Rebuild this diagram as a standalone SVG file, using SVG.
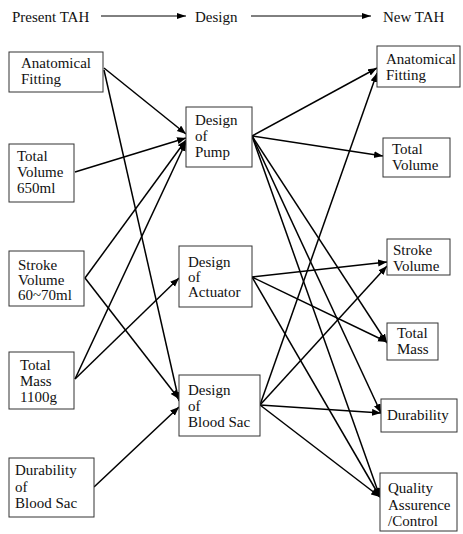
<svg xmlns="http://www.w3.org/2000/svg" width="463" height="534" viewBox="0 0 463 534">
<defs>
<marker id="ah" markerUnits="userSpaceOnUse" markerWidth="10" markerHeight="8" refX="9" refY="3.5" orient="auto">
<path d="M0,0 L9,3.5 L0,7 Z" fill="#000"/>
</marker>
<marker id="ahs" markerUnits="userSpaceOnUse" markerWidth="10" markerHeight="8" refX="9" refY="3" orient="auto">
<path d="M0,0 L9,3 L0,6 Z" fill="#000"/>
</marker>
<style>
text{font-family:"Liberation Serif","Times New Roman",serif;font-size:15px;fill:#111}
.box{fill:#fff;stroke:#333;stroke-width:1}
.c{stroke:#000;stroke-width:1.5;fill:none;marker-end:url(#ah)}
.h{stroke:#000;stroke-width:1;fill:none;marker-end:url(#ahs)}
</style>
</defs>
<rect width="463" height="534" fill="#fff"/>
<g id="header">
<text x="12" y="22">Present TAH</text>
<line class="h" x1="101" y1="16" x2="186" y2="16"/>
<text x="195" y="22">Design</text>
<line class="h" x1="251" y1="16" x2="371" y2="16"/>
<text x="383" y="22">New TAH</text>
</g>
<g id="connectors">
<line class="c" x1="104" y1="68" x2="186" y2="134"/>
<line class="c" x1="104" y1="70" x2="179" y2="401"/>
<line class="c" x1="75" y1="172" x2="186" y2="138"/>
<line class="c" x1="85" y1="278" x2="186" y2="140"/>
<line class="c" x1="85" y1="278" x2="179" y2="399"/>
<line class="c" x1="75" y1="379" x2="186" y2="142"/>
<line class="c" x1="75" y1="379" x2="179" y2="278"/>
<line class="c" x1="94" y1="487" x2="179" y2="407"/>
<line class="c" x1="252" y1="136" x2="377" y2="68"/>
<line class="c" x1="252" y1="136" x2="383" y2="156"/>
<line class="c" x1="252" y1="136" x2="387" y2="343"/>
<line class="c" x1="252" y1="136" x2="381" y2="413"/>
<line class="c" x1="252" y1="136" x2="380" y2="497"/>
<line class="c" x1="252" y1="277" x2="387" y2="262"/>
<line class="c" x1="252" y1="277" x2="387" y2="342"/>
<line class="c" x1="252" y1="277" x2="380" y2="497"/>
<line class="c" x1="260" y1="405" x2="377" y2="73"/>
<line class="c" x1="260" y1="405" x2="387" y2="266"/>
<line class="c" x1="260" y1="405" x2="381" y2="413"/>
<line class="c" x1="260" y1="405" x2="380" y2="497"/>
</g>
<g id="l-anatomical">
<rect class="box" x="9" y="52" width="94" height="40"/>
<text x="21" y="68">Anatomical</text>
<text x="21" y="84">Fitting</text>
</g>
<g id="l-totalvolume">
<rect class="box" x="9" y="144" width="65" height="58"/>
<text x="17" y="161">Total</text>
<text x="17" y="177">Volume</text>
<text x="17" y="193">650ml</text>
</g>
<g id="l-strokevolume">
<rect class="box" x="9" y="251" width="75" height="55"/>
<text x="18" y="270">Stroke</text>
<text x="18" y="285">Volume</text>
<text x="18" y="300">60~70ml</text>
</g>
<g id="l-totalmass">
<rect class="box" x="9" y="352" width="65" height="57"/>
<text x="20" y="370">Total</text>
<text x="20" y="386">Mass</text>
<text x="20" y="402">1100g</text>
</g>
<g id="l-durability">
<rect class="box" x="9" y="458" width="85" height="59"/>
<text x="15" y="475">Durability</text>
<text x="15" y="492">of</text>
<text x="15" y="508">Blood Sac</text>
</g>
<g id="m-pump">
<rect class="box" x="186" y="107" width="66" height="60"/>
<text x="195" y="125">Design</text>
<text x="195" y="141">of</text>
<text x="195" y="157">Pump</text>
</g>
<g id="m-actuator">
<rect class="box" x="179" y="246" width="73" height="61"/>
<text x="188" y="267">Design</text>
<text x="188" y="282">of</text>
<text x="188" y="297">Actuator</text>
</g>
<g id="m-bloodsac">
<rect class="box" x="179" y="375" width="81" height="61"/>
<text x="188" y="395">Design</text>
<text x="188" y="411">of</text>
<text x="188" y="427">Blood Sac</text>
</g>
<g id="r-anatomical">
<rect class="box" x="377" y="46" width="83" height="41"/>
<text x="386" y="64">Anatomical</text>
<text x="386" y="80">Fitting</text>
</g>
<g id="r-totalvolume">
<rect class="box" x="383" y="138" width="67" height="39"/>
<text x="392" y="154">Total</text>
<text x="392" y="170">Volume</text>
</g>
<g id="r-strokevolume">
<rect class="box" x="387" y="239" width="63" height="36"/>
<text x="393" y="255">Stroke</text>
<text x="393" y="271">Volume</text>
</g>
<g id="r-totalmass">
<rect class="box" x="387" y="323" width="51" height="37"/>
<text x="397" y="338">Total</text>
<text x="397" y="354">Mass</text>
</g>
<g id="r-durability">
<rect class="box" x="381" y="399" width="76" height="33"/>
<text x="387" y="420">Durability</text>
</g>
<g id="r-quality">
<rect class="box" x="380" y="473" width="77" height="58"/>
<text x="388" y="493">Quality</text>
<text x="388" y="510">Assurence</text>
<text x="388" y="526">/Control</text>
</g>
</svg>
